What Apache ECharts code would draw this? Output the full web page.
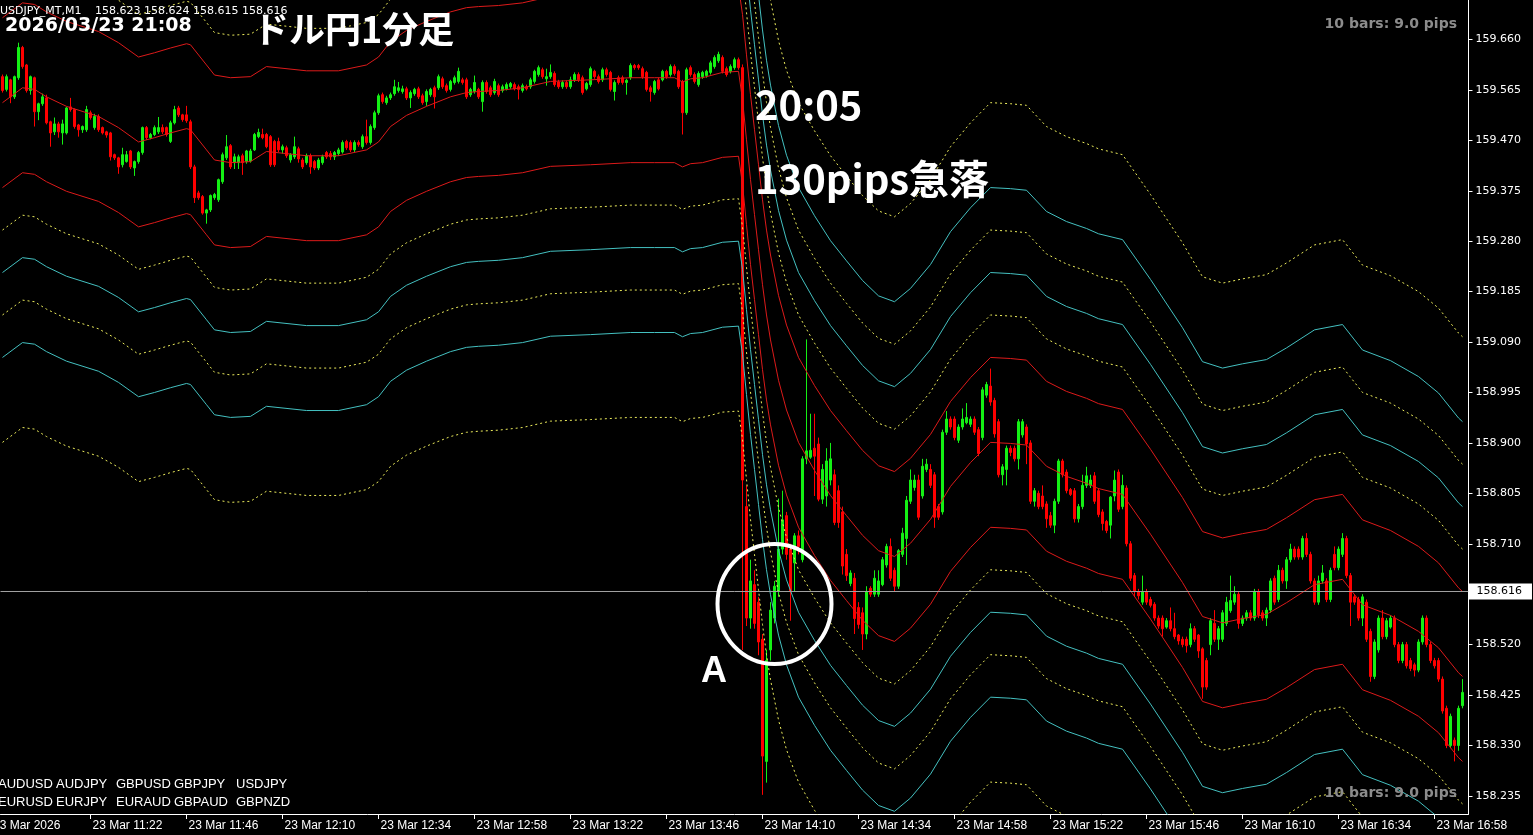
<!DOCTYPE html>
<html><head><meta charset="utf-8">
<script src="https://cdn.jsdelivr.net/npm/echarts@6.0.0/dist/echarts.min.js"></script>
<style>html,body{margin:0;padding:0;background:#000;overflow:hidden}#c{width:1533px;height:835px}</style>
</head><body><div id="c"></div><script>
// ---- time categories (1-minute bars starting 11:00) ----
const startTime = '11:00';
const slotCount = 367;
const tickLabels = ['11:22','11:46','12:10','12:34','12:58','13:22','13:46','14:10','14:34','14:58','15:22','15:46','16:10','16:34','16:58'];
const firstDateLabel = '23 Mar 2026';
const yTicks = [159.660,159.565,159.470,159.375,159.280,159.185,159.090,158.995,158.900,158.805,158.710,158.520,158.425,158.330,158.235];
const bidPrice = 158.616;

// ---- candles [open, close, low, high] by segment ----
const seg1Start = 0;
const seg1 = [
[159.590,159.564,159.560,159.594],[159.566,159.590,159.562,159.594],[159.584,159.552,159.540,159.586],[159.552,159.590,159.548,159.592],
[159.588,159.645,159.584,159.654],[159.645,159.609,159.605,159.648],[159.612,159.564,159.560,159.614],[159.564,159.590,159.556,159.592],
[159.588,159.524,159.496,159.590],[159.524,159.539,159.508,159.541],[159.539,159.552,159.535,159.558],[159.550,159.503,159.500,159.556],
[159.505,159.484,159.458,159.507],[159.486,159.501,159.480,159.513],[159.501,159.486,159.475,159.505],[159.484,159.501,159.462,159.509],
[159.484,159.531,159.481,159.533],[159.533,159.528,159.524,159.550],[159.528,159.496,159.492,159.530],[159.499,159.490,159.477,159.501],
[159.490,159.496,159.484,159.498],[159.490,159.528,159.486,159.535],[159.522,159.513,159.509,159.526],[159.494,159.515,159.490,159.520],
[159.515,159.490,159.486,159.519],[159.494,159.484,159.481,159.496],[159.486,159.480,159.475,159.488],[159.484,159.439,159.432,159.486],
[159.443,159.437,159.433,159.445],[159.437,159.420,159.407,159.439],[159.424,159.443,159.419,159.456],[159.430,159.443,159.428,159.450],
[159.450,159.420,159.416,159.452],[159.418,159.430,159.403,159.432],[159.430,159.447,159.426,159.450],[159.447,159.494,159.443,159.496],
[159.494,159.475,159.471,159.497],[159.475,159.481,159.472,159.484],[159.481,159.494,159.478,159.498],[159.486,159.494,159.482,159.514],
[159.494,159.486,159.482,159.500],[159.494,159.481,159.477,159.496],[159.468,159.503,159.465,159.507],[159.503,159.528,159.500,159.535],
[159.531,159.518,159.514,159.535],[159.518,159.509,159.505,159.520],[159.518,159.507,159.503,159.535],[159.505,159.420,159.416,159.509],
[159.420,159.362,159.352,159.424],[159.371,159.362,159.358,159.375],[159.364,159.333,159.330,159.367],[159.333,159.339,159.313,159.341],
[159.339,159.366,159.335,159.368],[159.362,159.368,159.358,159.371],[159.358,159.396,159.354,159.398],[159.392,159.443,159.388,159.447],
[159.437,159.458,159.433,159.480],[159.460,159.420,159.416,159.463],[159.428,159.439,159.416,159.445],[159.428,159.439,159.416,159.443],
[159.441,159.428,159.405,159.445],[159.430,159.450,159.426,159.452]
];
const seg2Start = 62;
const seg2 = [
[159.431,159.450,159.428,159.454],[159.452,159.481,159.450,159.484],[159.477,159.485,159.474,159.492],[159.481,159.475,159.472,159.492],
[159.481,159.458,159.455,159.484],[159.477,159.424,159.420,159.480],[159.468,159.424,159.420,159.471],[159.468,159.452,159.448,159.475],
[159.452,159.458,159.445,159.462],[159.456,159.441,159.437,159.460],[159.433,159.443,159.428,159.446],[159.439,159.458,159.435,159.477],
[159.454,159.435,159.428,159.458],[159.433,159.420,159.416,159.437],[159.428,159.441,159.424,159.445],[159.441,159.420,159.407,159.445],
[159.430,159.418,159.414,159.433],[159.418,159.433,159.414,159.437],[159.428,159.439,159.424,159.443],[159.447,159.439,159.435,159.450],
[159.445,159.439,159.433,159.450],[159.439,159.447,159.433,159.450],[159.445,159.452,159.441,159.456],[159.448,159.466,159.445,159.470],
[159.468,159.456,159.452,159.471],[159.466,159.452,159.448,159.470],[159.452,159.466,159.448,159.470],[159.466,159.462,159.458,159.470],
[159.458,159.477,159.454,159.481],[159.477,159.466,159.462,159.509],[159.466,159.496,159.462,159.500],[159.494,159.522,159.490,159.526],
[159.522,159.554,159.518,159.558],[159.556,159.543,159.539,159.560],[159.541,159.550,159.537,159.554],[159.550,159.556,159.546,159.560],
[159.558,159.571,159.554,159.584],[159.564,159.569,159.560,159.580],[159.562,159.567,159.558,159.573],[159.567,159.550,159.546,159.571],
[159.550,159.560,159.531,159.564],[159.558,159.566,159.554,159.569],[159.567,159.552,159.548,159.571],[159.554,159.541,159.537,159.558],
[159.543,159.562,159.535,159.566],[159.556,159.566,159.552,159.569],[159.569,159.552,159.530,159.573],[159.569,159.590,159.565,159.594],
[159.586,159.571,159.567,159.590],[159.573,159.564,159.560,159.577],[159.566,159.581,159.562,159.584],[159.579,159.588,159.575,159.592],
[159.581,159.600,159.577,159.607],[159.584,159.579,159.575,159.588],[159.584,159.552,159.548,159.588],[159.556,159.566,159.552,159.569],
[159.562,159.579,159.558,159.592],[159.566,159.552,159.548,159.569],[159.543,159.579,159.524,159.583],[159.579,159.562,159.558,159.583],
[159.569,159.556,159.552,159.573],[159.560,159.581,159.556,159.586]
];
const seg3Start = 124;
const seg3 = [
[159.573,159.556,159.552,159.577],[159.564,159.571,159.560,159.575],[159.567,159.575,159.564,159.579],[159.571,159.577,159.567,159.580],
[159.575,159.567,159.564,159.579],[159.571,159.566,159.547,159.575],[159.564,159.573,159.560,159.577],[159.571,159.567,159.564,159.575],
[159.571,159.584,159.567,159.588],[159.581,159.600,159.577,159.603],[159.594,159.607,159.590,159.611],[159.603,159.590,159.586,159.607],
[159.586,159.590,159.573,159.605],[159.590,159.598,159.586,159.613],[159.596,159.575,159.571,159.600],[159.580,159.571,159.567,159.584],
[159.571,159.579,159.567,159.583],[159.579,159.571,159.567,159.583],[159.571,159.584,159.567,159.590],[159.584,159.594,159.580,159.598],
[159.594,159.584,159.580,159.598],[159.588,159.560,159.556,159.592],[159.567,159.577,159.564,159.580],[159.575,159.605,159.571,159.609],
[159.600,159.590,159.586,159.603],[159.590,159.581,159.577,159.594],[159.584,159.603,159.580,159.607],[159.603,159.594,159.590,159.607],
[159.598,159.566,159.562,159.601],[159.562,159.579,159.545,159.583],[159.588,159.579,159.575,159.592],[159.588,159.579,159.575,159.592],
[159.579,159.583,159.556,159.586],[159.588,159.611,159.584,159.615],[159.611,159.607,159.603,159.614],[159.611,159.607,159.603,159.614],
[159.605,159.590,159.586,159.609],[159.598,159.566,159.562,159.601],[159.569,159.562,159.543,159.573],[159.560,159.581,159.556,159.584],
[159.584,159.567,159.564,159.588],[159.584,159.600,159.581,159.603],[159.600,159.590,159.586,159.603],[159.594,159.609,159.590,159.613],
[159.609,159.596,159.592,159.613],[159.600,159.571,159.567,159.603],[159.580,159.522,159.481,159.584],[159.522,159.603,159.518,159.607],
[159.607,159.594,159.590,159.611],[159.594,159.581,159.577,159.598],[159.575,159.596,159.571,159.600],[159.590,159.598,159.586,159.601],
[159.592,159.600,159.588,159.603],[159.598,159.616,159.594,159.620],[159.609,159.626,159.605,159.630],[159.620,159.632,159.616,159.637],
[159.626,159.600,159.596,159.630],[159.605,159.594,159.590,159.609],[159.600,159.609,159.596,159.613],[159.607,159.622,159.603,159.626],
[159.622,159.607,159.603,159.626]
];
const seg4Start = 185;
const seg4 = [
[159.607,158.830,158.510,159.613],[158.780,158.570,158.555,158.820],[158.570,158.640,158.550,158.680],[158.633,158.560,158.550,158.660],
[158.600,158.525,158.500,158.610],[158.530,158.310,158.237,158.540],[158.300,158.490,158.260,158.510],[158.510,158.585,158.490,158.600],
[158.570,158.630,158.560,158.640],[158.620,158.700,158.610,158.795],[158.700,158.755,158.690,158.810],[158.763,158.690,158.680,158.770],
[158.700,158.620,158.565,158.710],[158.674,158.725,158.620,158.730],[158.725,158.705,158.690,158.735],[158.680,158.870,158.675,158.875],
[158.870,158.885,158.860,159.095],[158.873,158.886,158.870,158.955],[158.890,158.875,158.800,158.955],[158.898,158.794,158.790,158.910],
[158.794,158.850,158.785,158.860],[158.800,158.866,158.780,158.890],[158.830,158.870,158.820,158.900],[158.840,158.750,158.745,158.850],
[158.810,158.750,158.740,158.820],[158.770,158.668,158.652,158.780],[158.690,158.650,158.640,158.700],[158.635,158.655,158.630,158.660],
[158.645,158.569,158.540,158.655],[158.590,158.558,158.550,158.600],[158.580,158.540,158.510,158.590],[158.540,158.620,158.530,158.630],
[158.626,158.615,158.610,158.630],[158.615,158.645,158.610,158.660],[158.615,158.640,158.610,158.660],[158.633,158.680,158.630,158.685],
[158.670,158.705,158.665,158.710],[158.705,158.645,158.640,158.720],[158.660,158.630,158.620,158.665],[158.630,158.697,158.625,158.700],
[158.690,158.730,158.685,158.740],[158.720,158.792,158.670,158.800],[158.790,158.830,158.785,158.850],[158.816,158.830,158.810,158.840],
[158.830,158.760,158.755,158.840],[158.800,158.856,158.795,158.870],[158.850,158.860,158.845,158.870],[158.850,158.820,158.815,158.860],
[158.840,158.760,158.740,158.845],[158.780,158.760,158.755,158.785],[158.770,158.920,158.765,158.925],[158.920,158.945,158.915,158.960],
[158.945,158.930,158.925,158.950],[158.945,158.910,158.905,158.950],[158.905,158.930,158.900,158.935],[158.930,158.945,158.925,158.965],
[158.938,158.948,158.935,158.975],[158.935,158.945,158.930,158.950],[158.945,158.920,158.915,158.950],[158.925,158.880,158.875,158.930],
[158.910,159.000,158.905,159.005],[158.990,159.010,158.985,159.015],[159.007,158.977,158.970,159.040],[158.980,158.917,158.910,158.985],
[158.940,158.840,158.835,158.945],[158.840,158.855,158.820,158.860]
];
const seg5Start = 251;
const seg5 = [
[158.850,158.890,158.820,158.895],[158.890,158.882,158.875,158.895],[158.890,158.870,158.865,158.895],[158.870,158.940,158.850,158.945],
[158.915,158.940,158.910,158.945],[158.930,158.898,158.860,158.935],[158.900,158.790,158.785,158.905],[158.790,158.810,158.780,158.815],
[158.805,158.780,158.775,158.810],[158.800,158.780,158.775,158.820],[158.785,158.757,158.740,158.790],[158.763,158.745,158.740,158.770],
[158.745,158.790,158.730,158.795],[158.790,158.866,158.785,158.870],[158.866,158.840,158.835,158.870],[158.845,158.810,158.805,158.850],
[158.812,158.803,158.800,158.815],[158.810,158.757,158.750,158.815],[158.757,158.780,158.750,158.785],[158.780,158.820,158.775,158.840],
[158.820,158.838,158.815,158.855],[158.820,158.830,158.815,158.840],[158.838,158.790,158.785,158.845],[158.810,158.765,158.760,158.815],
[158.770,158.748,158.735,158.775],[158.752,158.735,158.730,158.755],[158.745,158.798,158.720,158.800],[158.800,158.830,158.790,158.848],
[158.845,158.775,158.770,158.850],[158.780,158.820,158.775,158.840],[158.815,158.710,158.705,158.820],[158.710,158.645,158.640,158.715],
[158.650,158.620,158.610,158.655],[158.620,158.612,158.605,158.625],[158.600,158.620,158.595,158.650],[158.620,158.600,158.595,158.625],
[158.605,158.594,158.590,158.610],[158.596,158.570,158.565,158.600],[158.570,158.555,158.550,158.575],[158.570,158.550,158.535,158.575],
[158.553,158.565,158.550,158.570],[158.565,158.550,158.545,158.590],[158.550,158.535,158.530,158.580],[158.538,158.527,158.520,158.540],
[158.530,158.520,158.515,158.535],[158.530,158.518,158.505,158.535],[158.520,158.550,158.515,158.560],[158.550,158.530,158.525,158.555],
[158.538,158.508,158.495,158.540],[158.512,158.440,158.418,158.515],[158.490,158.440,158.435,158.495],[158.520,158.565,158.500,158.570],
[158.560,158.530,158.525,158.585],[158.530,158.550,158.510,158.555],[158.530,158.580,158.525,158.585],[158.560,158.600,158.555,158.610],
[158.584,158.603,158.580,158.650],[158.600,158.615,158.595,158.630],[158.615,158.560,158.550,158.620],[158.560,158.570,158.555,158.575],
[158.570,158.580,158.565,158.585],[158.580,158.570,158.565,158.585],[158.570,158.620,158.565,158.625],[158.620,158.576,158.570,158.625],
[158.580,158.570,158.565,158.585],[158.570,158.585,158.555,158.590],[158.585,158.640,158.580,158.645],[158.645,158.600,158.595,158.650],
[158.605,158.660,158.600,158.670],[158.660,158.640,158.635,158.665],[158.640,158.680,158.625,158.685],[158.680,158.700,158.675,158.710],
[158.700,158.685,158.680,158.705],[158.700,158.685,158.680,158.705],[158.685,158.720,158.680,158.725],[158.720,158.690,158.685,158.730],
[158.690,158.640,158.635,158.695],[158.640,158.600,158.595,158.645],[158.600,158.640,158.595,158.650],[158.640,158.655,158.635,158.670],
[158.640,158.605,158.600,158.645],[158.605,158.660,158.600,158.665],[158.690,158.665,158.660,158.705],[158.665,158.700,158.660,158.705],
[158.690,158.720,158.685,158.730],[158.720,158.650,158.645,158.725],[158.650,158.600,158.555,158.655],[158.610,158.600,158.595,158.615],
[158.605,158.570,158.565,158.610],[158.570,158.610,158.555,158.615],[158.600,158.530,158.525,158.605],[158.545,158.460,158.450,158.550],
[158.460,158.525,158.455,158.530],[158.510,158.570,158.505,158.575],[158.570,158.535,158.530,158.585],[158.535,158.565,158.530,158.570],
[158.553,158.570,158.550,158.575],[158.570,158.520,158.515,158.575],[158.520,158.490,158.485,158.525],[158.490,158.520,158.485,158.525],
[158.520,158.480,158.475,158.525],[158.490,158.475,158.470,158.495],[158.482,158.472,158.460,158.486],[158.472,158.525,158.468,158.530],
[158.525,158.570,158.520,158.575],[158.570,158.520,158.515,158.575],[158.520,158.490,158.485,158.525],[158.490,158.480,158.475,158.495],
[158.490,158.455,158.450,158.495],[158.455,158.395,158.390,158.460],[158.400,158.330,158.325,158.405],[158.330,158.385,158.325,158.390],
[158.340,158.330,158.300,158.345],[158.330,158.400,158.320,158.405],[158.405,158.430,158.400,158.455]
];

// ---- moving average: [bar index, price] ----
const maPoints = [
[0,159.541],[5,159.569],[8,159.566],[11,159.552],[16,159.534],[24,159.515],[29,159.494],[34,159.467],[38,159.475],[42,159.484],
[46,159.492],[47,159.490],[51,159.452],[53,159.433],[57,159.428],[62,159.430],[66,159.449],[76,159.441],[84,159.441],[91,159.452],
[94,159.467],[97,159.496],[101,159.517],[106,159.534],[112,159.552],[116,159.560],[119,159.562],[124,159.564],[130,159.569],[137,159.581],
[147,159.584],[157,159.588],[163,159.588],[168,159.588],[170,159.580],[172,159.586],[175,159.588],[180,159.598],[184,159.600],
[185,159.547],[186,159.471],[187,159.396],[188,159.330],[189,159.264],[190,159.198],[191,159.141],[192,159.094],[194,159.018],[196,158.962],
[199,158.901],[203,158.848],[207,158.801],[211,158.763],[215,158.726],[219,158.697],[223,158.686],[227,158.711],[232,158.756],[237,158.818],
[242,158.863],[247,158.901],[252,158.899],[256,158.896],[261,158.856],[266,158.837],[271,158.824],[274,158.814],[280,158.803],[287,158.728],
[295,158.637],[300,158.573],[305,158.561],[310,158.569],[316,158.577],[321,158.599],[328,158.633],[335,158.643],[340,158.595],[347,158.575],
[354,158.545],[359,158.514],[364,158.467],[365,158.460]
];
// envelope distances from the MA (price units) and their kinds
const envelopeOffsets = [0.16, 0.24, 0.32, 0.40, 0.48, 0.64];
const envelopeKinds = ['red','yellow','cyan','yellow','cyan','yellow'];

// ---- build ----
function pad(n){return String(n).padStart(2,'0');}
const [sh, sm] = startTime.split(':').map(Number);
const categories = [];
for (let i = 0; i < slotCount; i++) { const m = sh*60 + sm + i; categories.push(pad(Math.floor(m/60)) + ':' + pad(m%60)); }

const candles = new Array(slotCount).fill('-');
[[seg1Start,seg1],[seg2Start,seg2],[seg3Start,seg3],[seg4Start,seg4],[seg5Start,seg5]].forEach(([s,arr]) => {
  arr.forEach((c, k) => { candles[s+k] = c; });
});

const lineStyles = {
  red: {color:'#dc1a1a', width:1, type:'solid'},
  yellow: {color:'#ecec5c', width:1, type:[2,3]},
  cyan: {color:'#44c0c0', width:1, type:'solid'}
};

const series = [];
series.push({
  type:'candlestick', data:candles, barWidth:2, z:2, silent:true,
  itemStyle:{color:'#14f014', color0:'#ff0000', borderColor:'#14f014', borderColor0:'#ff0000', borderWidth:1},
  markLine:{
    symbol:['none','none'], silent:true, animation:false,
    data:[{yAxis:bidPrice}],
    lineStyle:{color:'#a0a0a0', width:1, type:'solid'},
    label:{show:true, position:'end', distance:0, formatter:bidPrice.toFixed(3), backgroundColor:'#ffffff', color:'#000000',
           fontFamily:'DejaVu Sans', fontSize:11, padding:[3,10,2,8]}
  }
});
envelopeOffsets.forEach((off, k) => {
  [1,-1].forEach(sign => {
    series.push({type:'line', silent:true, symbol:'none', showSymbol:false, z:3,
      data: maPoints.map(([i,v]) => [i, +(v + sign*off).toFixed(4)]),
      lineStyle: lineStyles[envelopeKinds[k]]});
  });
});
series.push({type:'line', silent:true, symbol:'none', showSymbol:false, z:4,
  data: maPoints.map(([i,v]) => [i, v]), lineStyle:{color:'#dc1a1a', width:1}});

const chart = echarts.init(document.getElementById('c'), null, {renderer:'canvas'});
const white = '#ffffff';
const txt = (x, y, text, font, fill, align) => ({type:'text', x, y, silent:true, z:100,
  style:{text, font, fill: fill || white, align: align || 'left', verticalAlign:'middle'}});
const pairsRow1 = ['AUDUSD','AUDJPY','GBPUSD','GBPJPY','USDJPY'];
const pairsRow2 = ['EURUSD','EURJPY','EURAUD','GBPAUD','GBPNZD'];
const pairX = [-2, 56, 116, 174, 236];
const graphics = [
  txt(0, 11, 'USDJPY_MT,M1', '11px "DejaVu Sans"'),
  txt(95, 11, '158.623 158.624 158.615 158.616', '11px "DejaVu Sans"'),
  txt(5, 26, '2026/03/23 21:08', 'bold 19px "DejaVu Sans"'),
  txt(253, 29, 'ドル円1分足', 'bold 36px "Noto Sans CJK JP"'),
  txt(755, 105, '20:05', 'bold 40px "Noto Sans CJK JP"'),
  txt(755, 179, '130pips急落', 'bold 40px "Noto Sans CJK JP"'),
  txt(701, 672, 'A', 'bold 36px "Liberation Sans"'),
  txt(1457, 24, '10 bars: 9.0 pips', 'bold 14px "DejaVu Sans"', '#8c8c8c', 'right'),
  txt(1457, 793, '10 bars: 9.0 pips', 'bold 14px "DejaVu Sans"', '#8c8c8c', 'right'),
  txt(-7, 826, firstDateLabel, '12px "Liberation Sans"'),
  {type:'ellipse', silent:true, z:100, shape:{cx:774.5, cy:604, rx:57, ry:60}, style:{fill:'none', stroke:'#ffffff', lineWidth:4}}
];
pairsRow1.forEach((p,k) => graphics.push(txt(pairX[k], 784, p, '13px "Liberation Sans"')));
pairsRow2.forEach((p,k) => graphics.push(txt(pairX[k], 802, p, '13px "Liberation Sans"')));

const showTick = (idx, val) => tickLabels.indexOf(val) >= 0;
chart.setOption({
  backgroundColor:'#000000',
  animation:false,
  grid:{left:0.5, top:0, width:1468, height:814, containLabel:false},
  xAxis:{type:'category', data:categories, boundaryGap:true,
    axisLine:{show:true, lineStyle:{color:white, width:1}},
    axisTick:{show:true, alignWithLabel:true, interval:showTick, length:5, lineStyle:{color:white}},
    axisLabel:{show:true, interval:showTick, formatter:(v) => '23 Mar ' + v, align:'left', color:white,
      fontFamily:'Liberation Sans', fontSize:12, margin:6, padding:[0,0,0,2]},
    splitLine:{show:false}},
  yAxis:{type:'value', position:'right', min:158.2009, max:159.7344, scale:true,
    axisLine:{show:true, lineStyle:{color:white, width:1}},
    axisTick:{show:true, length:4, customValues:yTicks, lineStyle:{color:white}},
    axisLabel:{show:true, customValues:yTicks, formatter:(v) => Number(v).toFixed(3), color:white,
      fontFamily:'DejaVu Sans', fontSize:11, margin:7},
    splitLine:{show:false}},
  series,
  graphic:graphics
});
</script></body></html>
